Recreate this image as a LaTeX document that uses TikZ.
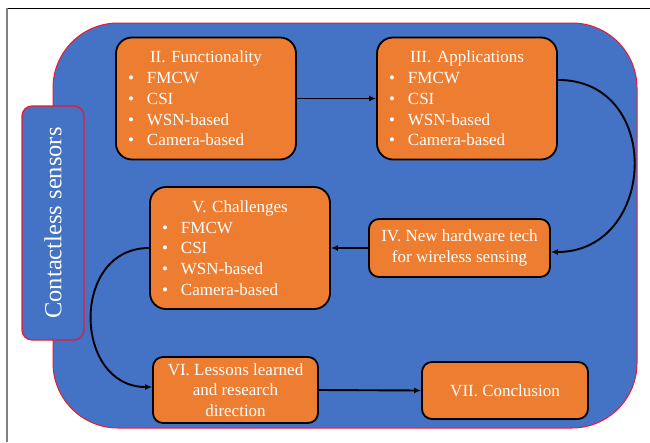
\documentclass[tikz,border=0pt]{standalone}
\usepackage{fontspec}
\setmainfont{Liberation Serif}
\usetikzlibrary{arrows.meta,calc}
\definecolor{bblue}{HTML}{4472C4}
\definecolor{oorange}{HTML}{ED7D31}
\definecolor{rred}{HTML}{F01830}
\newcommand{\bitem}[1]{\makebox[\hsize][l]{\hspace*{12pt}\textbullet\hspace{13pt}#1}}
\tikzset{
  panelbox/.style={draw=rred, line width=1pt, fill=bblue, rounded corners=65pt, inner sep=0pt},
  sidebox/.style={draw=rred, line width=1.2pt, fill=bblue, rounded corners=10pt, text=white,
    font=\fontsize{24.5}{28}\selectfont, inner sep=0pt},
  obox/.style={draw=black, line width=1.8pt, fill=oorange, text=white,
    font=\fontsize{17}{20.7}\selectfont, align=center, inner sep=0pt},
  listbox/.style={obox, rounded corners=16pt, minimum width=180pt, minimum height=122pt, text width=180pt},
  smallbox/.style={obox, rounded corners=10pt},
  conn/.style={draw=black, line width=1.9pt, -{Latex[length=7pt,width=6pt]}}
}
\begin{document}
\begin{tikzpicture}[x=1pt,y=-1pt]
\useasboundingbox (0,0) rectangle (650,442);
\draw[black, line width=0.9pt] (7,8) -- (650,8);
\draw[gray, line width=1.6pt] (7,8) -- (7,442);
\node[panelbox, minimum width=584pt, minimum height=405pt] (panel) at (345,225.5) {};
\node[sidebox, rotate=90, minimum width=234pt, minimum height=62pt] (cs) at (53,223) {Contactless sensors};
\node[listbox] (ii) at (206,98.5) {II. Functionality\\\bitem{FMCW}\\\bitem{CSI}\\\bitem{WSN-based}\\\bitem{Camera-based}};
\node[listbox] (iii) at (467,98.5) {III. Applications\\\bitem{FMCW}\\\bitem{CSI}\\\bitem{WSN-based}\\\bitem{Camera-based}};
\node[listbox] (v) at (240,248) {V. Challenges\\\bitem{FMCW}\\\bitem{CSI}\\\bitem{WSN-based}\\\bitem{Camera-based}};
\node[smallbox, minimum width=181pt, minimum height=58pt] (iv) at (459.5,248) {IV. New hardware tech\\for wireless sensing};
\node[smallbox, minimum width=165pt, minimum height=66pt] (vi) at (235.5,390) {VI. Lessons learned\\and research\\direction};
\node[smallbox, minimum width=166pt, minimum height=57pt] (vii) at (505,390.5) {VII. Conclusion};
\draw[conn] (ii.east) -- (iii.west);
\draw[conn] ($(iii.north east)!0.35!(iii.south east)$) .. controls +(106,0) and +(106,0) .. ($(iv.east)+(0,4)$);
\draw[conn] (iv.west) -- (v.east);
\draw[conn] (v.west) .. controls +(-79,0) and +(-79,0) .. ($(vi.west)+(0,-3)$);
\draw[conn] (vi.east) -- (vii.west);
\end{tikzpicture}
\end{document}
